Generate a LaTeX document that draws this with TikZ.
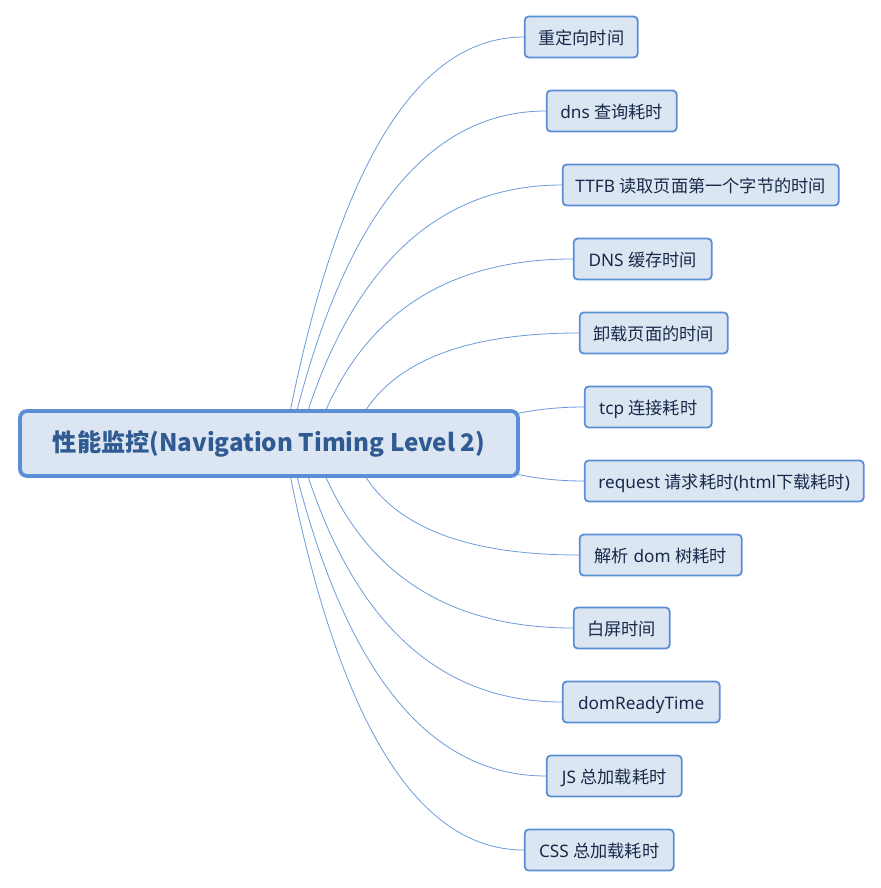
\documentclass[tikz,border=0pt]{standalone}
\usepackage{fontspec}
\setmainfont{Noto Sans}
\newfontfamily\cjk{Noto Sans CJK SC}
\usetikzlibrary{calc,backgrounds}
\definecolor{edgeblue}{HTML}{5A8ED5}
\definecolor{fillblue}{HTML}{DCE6F2}
\definecolor{linkblue}{HTML}{6C9ADA}
\definecolor{txtdark}{HTML}{18294A}
\definecolor{txtmain}{HTML}{2F5B92}
\newcommand\lnk[4]{%
  \coordinate (s#1) at ($(root.center)+(#2,0)$);
  \draw[link] (s#1) .. controls ($(s#1)!0.6667!(#3,#4)$) and ($(#1.west)!0.6667!(#3,#4)$) .. (#1.west);}
\begin{document}
\begin{tikzpicture}[x=1pt,y=-1pt,
  leaf/.style={draw=edgeblue, line width=1.8pt, fill=fillblue, rounded corners=4pt,
    minimum height=41pt, inner sep=0pt, anchor=west, text=txtdark,
    text height=15.5pt, text depth=0.5pt, font=\fontsize{17.2}{19}\selectfont},
  rootbox/.style={draw=edgeblue, line width=3.8pt, fill=fillblue, rounded corners=7pt,
    minimum width=498pt, minimum height=65pt, inner sep=0pt, text=txtmain,
    font=\fontsize{24.2}{28}\selectfont\cjk\bfseries},
  link/.style={draw=linkblue, line width=0.8pt}]
\useasboundingbox (0,0) rectangle (880,888);

\node[rootbox] (root) at (269,443.5) {性能监控(Navigation Timing Level 2)};

\node[leaf, minimum width=113pt] (c1) at (523.8,37) {\cjk 重定向时间};
\node[leaf, minimum width=130pt] (c2) at (545.8,111) {dns {\cjk 查询耗时}};
\node[leaf, minimum width=276pt] (c3) at (561.8,185) {TTFB {\cjk 读取页面第一个字节的时间}};
\node[leaf, minimum width=138pt] (c4) at (572.8,259) {DNS {\cjk 缓存时间}};
\node[leaf, minimum width=148pt] (c5) at (578.8,333) {\cjk 卸载页面的时间};
\node[leaf, minimum width=127pt] (c6) at (583.8,407) {tcp {\cjk 连接耗时}};
\node[leaf, minimum width=279pt] (c7) at (583.8,481) {request {\cjk 请求耗时}(html{\cjk 下载耗时})};
\node[leaf, minimum width=162pt] (c8) at (578.8,555) {{\cjk 解析} dom {\cjk 树耗时}};
\node[leaf, minimum width=96pt] (c9) at (572.8,628) {\cjk 白屏时间};
\node[leaf, minimum width=157pt] (c10) at (561.8,702) {domReadyTime};
\node[leaf, minimum width=135pt] (c11) at (545.8,776) {JS {\cjk 总加载耗时}};
\node[leaf, minimum width=149pt] (c12) at (523.8,850) {CSS {\cjk 总加载耗时}};

\begin{scope}[on background layer]
\lnk{c1}{15}{359}{37}
\lnk{c2}{20}{365}{111}
\lnk{c3}{29}{370}{185}
\lnk{c4}{44}{374}{259}
\lnk{c5}{81}{385}{333}
\lnk{c6}{171}{500}{407}
\lnk{c7}{171}{500}{481}
\lnk{c8}{81}{385}{555}
\lnk{c9}{44}{374}{628}
\lnk{c10}{29}{370}{702}
\lnk{c11}{20}{365}{776}
\lnk{c12}{15}{359}{850}
\end{scope}
\end{tikzpicture}
\end{document}
